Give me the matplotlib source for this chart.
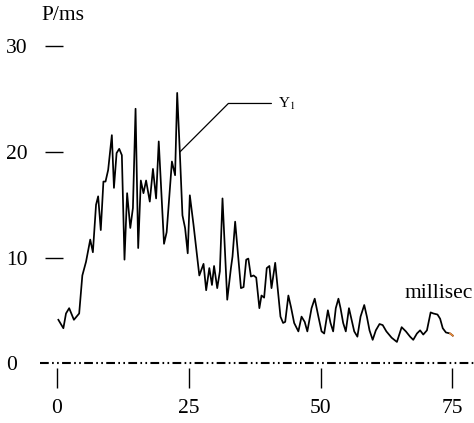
import matplotlib
matplotlib.use("Agg")
import matplotlib.pyplot as plt

# данные
t_ms = [0.25, 1.2, 1.7, 2.3, 3.2, 4.2, 4.8, 5.5, 6.3, 6.8,
        7.4, 7.8, 8.3, 8.8, 9.2, 9.7, 10.4, 10.8, 11.3, 11.8,
        12.3, 12.8, 13.3, 13.9, 14.4, 14.9, 15.4, 15.9, 16.4, 16.9,
        17.6, 18.2, 18.8, 19.3, 20.3, 20.8, 21.8, 22.4, 22.8, 23.3,
        23.8, 24.3, 24.8, 25.2, 25.9, 26.4, 27.0, 27.8, 28.3, 28.9,
        29.4, 29.8, 30.4, 30.9, 31.4, 32.3, 33.0, 33.3, 33.8, 34.9,
        35.4, 35.9, 36.3, 36.8, 37.3, 37.8, 38.4, 38.8, 39.3, 39.8,
        40.3, 40.7, 41.4, 41.9, 42.4, 42.9, 43.3, 43.9, 44.4, 45.0,
        45.8, 46.4, 47.0, 47.5, 48.3, 48.9, 49.6, 50.2, 50.7, 51.4,
        51.9, 52.4, 52.9, 53.4, 53.8, 54.3, 54.8, 55.4, 55.9, 56.4,
        57.0, 57.6, 58.3, 58.8, 59.3, 59.9, 60.5, 61.2, 61.8, 62.5,
        63.5, 64.5, 65.4, 66.2, 67.0, 67.6, 68.3, 68.9, 69.5, 70.2,
        70.9, 71.4, 72.2, 72.7, 73.2, 73.8, 74.6, 75.1]
p_ms = [4.1, 3.3, 4.7, 5.2, 4.1, 4.7, 8.3, 9.6, 11.7, 10.5,
        15.0, 15.8, 12.6, 17.2, 17.2, 18.3, 21.6, 16.6, 19.9, 20.3,
        19.7, 9.8, 16.1, 12.8, 14.7, 24.1, 10.9, 17.3, 16.1, 17.3,
        15.3, 18.4, 15.6, 21.0, 11.3, 12.4, 19.1, 17.8, 25.6, 20.0,
        14.0, 12.8, 10.4, 15.9, 13.1, 10.9, 8.3, 9.4, 6.9, 9.0,
        7.4, 9.2, 7.1, 8.7, 15.6, 6.0, 9.0, 10.1, 13.4, 7.1,
        7.2, 9.8, 9.9, 8.2, 8.3, 8.1, 5.2, 6.4, 6.2, 9.0,
        9.2, 7.1, 9.5, 6.9, 4.4, 3.8, 3.9, 6.4, 5.3, 3.8,
        3.0, 4.4, 3.9, 3.0, 5.2, 6.1, 4.4, 3.0, 2.8, 5.0,
        3.8, 3.0, 5.2, 6.1, 5.2, 3.8, 3.0, 5.2, 4.1, 3.0,
        2.5, 4.4, 5.5, 4.4, 3.1, 2.2, 3.1, 3.7, 3.6, 3.0,
        2.4, 2.0, 3.4, 3.0, 2.5, 2.2, 2.8, 3.1, 2.7, 3.1,
        4.8, 4.7, 4.6, 4.2, 3.3, 2.9, 2.8, 2.6]

x_ticks = [0, 25, 50, 75]
y_ticks = [0, 10, 20, 30]
label_point = 39  # точка, к которой идёт выноска Y1

plt.rcParams['font.family'] = ['Liberation Serif', 'DejaVu Serif']
plt.rcParams['mathtext.fontset'] = 'stix'

fig = plt.figure(figsize=(4.74, 4.23), dpi=100)
ax = fig.add_axes([0.095, 0.130, 0.905, 0.799])

ax.plot(t_ms, p_ms, color='black', lw=1.25)
ax.plot(t_ms[-2:], p_ms[-2:], color='#e8893a', lw=1.25)

# нулевая линия штрих-пунктиром
ax.axhline(0, xmin=-0.012, xmax=1, color='black', lw=1.5, clip_on=False,
           dashes=[4.2, 1.6, 0.8, 1.6, 0.8, 1.6])

ax.set_xlim(-2.28, 79.13)
ax.set_ylim(-0.47, 31.56)

for s in ax.spines.values():
    s.set_visible(False)

ax.set_xticks(x_ticks)
ax.set_yticks(y_ticks)
ax.tick_params(axis='x', direction='out', length=14.4, width=1.0, pad=8,
               labelsize=15.5)
ax.tick_params(axis='y', direction='in', length=13, width=1.0, pad=28,
               labelsize=15.5)
for lab in ax.get_yticklabels():
    lab.set_horizontalalignment('left')
ax.yaxis.get_major_ticks()[0].tick1line.set_visible(False)

ax.annotate(r'Y$_1$', xy=(t_ms[label_point], p_ms[label_point]),
            xytext=(42.0, 24.6), fontsize=11, va='center', ha='left',
            arrowprops=dict(arrowstyle='-', color='black', lw=0.9,
                            shrinkA=3, shrinkB=0, relpos=(0, 0.5),
                            connectionstyle='angle,angleA=0,angleB=45,rad=0'))

fig.text(41 / 474, 1 - 15 / 423, 'P/ms', fontsize=15.5, ha='left', va='center')
ax.text(66.0, 6.6, 'millisec', fontsize=15.5, ha='left', va='center')

fig.savefig('out.png', dpi=100)
